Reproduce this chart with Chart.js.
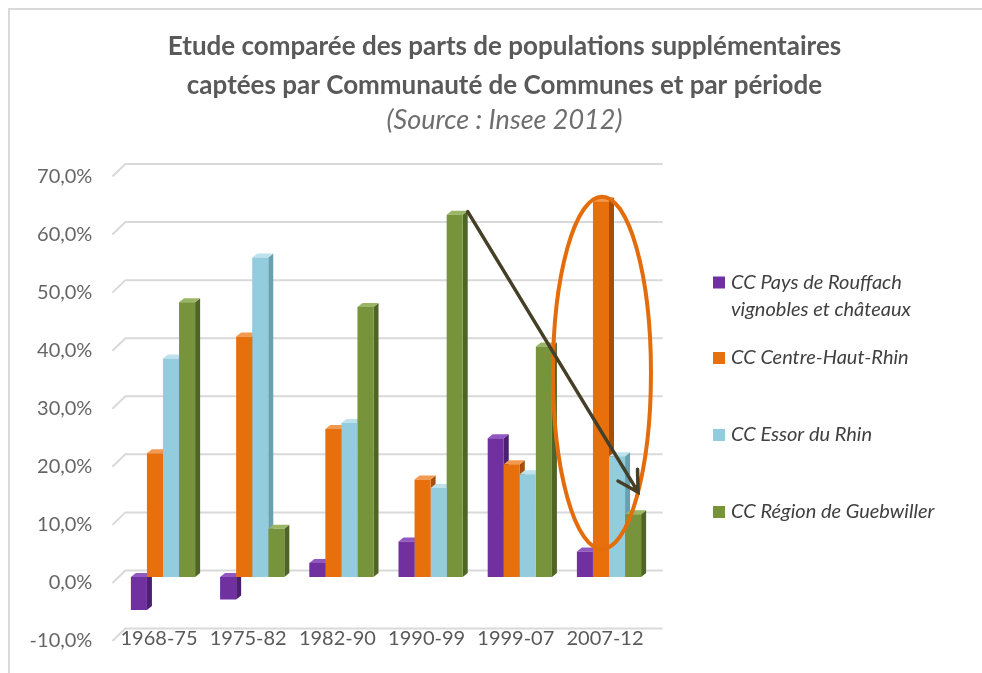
<!DOCTYPE html>
<html>
<head>
<meta charset="utf-8">
<script src="https://cdn.jsdelivr.net/npm/chart.js@4.4.1/dist/chart.umd.min.js"></script>
<style>
  body { margin: 0; background: #fff; }
  #wrap { position: relative; width: 982px; height: 673px; overflow: hidden; }
  #frame { position: absolute; left: 8px; top: 8px; width: 1000px; height: 700px;
           border-top: 2px solid #d9d9d9; border-left: 2px solid #d9d9d9; }
  canvas { position: absolute; left: 0; top: 0; }
</style>
</head>
<body>
<div id="wrap">
  <div id="frame"></div>
  <canvas id="chart" width="982" height="673"></canvas>
</div>
<script>
const categories = ["1968-75", "1975-82", "1982-90", "1990-99", "1999-07", "2007-12"];

const rouffach   = [-5.7, -3.9, 2.4, 6.1, 23.9, 4.4];
const centreHaut = [21.3, 41.4, 25.5, 16.8, 19.4, 64.7];
const essor      = [37.6, 55.0, 26.5, 15.3, 17.7, 20.8];
const guebwiller = [47.3, 8.3, 46.5, 62.4, 39.7, 10.8];

const seriesNames = [
  ["CC Pays de Rouffach", "vignobles et châteaux"],
  ["CC Centre-Haut-Rhin"],
  ["CC Essor du Rhin"],
  ["CC Région de Guebwiller"]
];

const yMin = -10, yMax = 70, yStep = 10;

const frontColors = ["#7030a0", "#e8700c", "#93cddd", "#77933c"];
const sideColors  = ["#4d1f72", "#a84f06", "#6a9fb0", "#4f6526"];
const topColors   = ["#9058c0", "#f39a50", "#bde2ec", "#9ab565"];

const legendY = [296, 358, 435, 512];
const legendLine = 27;

// back wall grid lines, with the little slanted bit at the left
const wall = {
  id: "wall",
  beforeDatasetsDraw(chart) {
    const { ctx, chartArea: a, scales: { y } } = chart;
    ctx.save();
    ctx.strokeStyle = "#d9d9d9";
    ctx.lineWidth = 2;
    y.ticks.forEach(t => {
      const p = y.getPixelForValue(t.value);
      ctx.beginPath();
      ctx.moveTo(a.left - 6, p + 6);
      ctx.lineTo(a.left + 7, p - 6.5);
      ctx.lineTo(a.right + 9, p - 6.5);
      ctx.stroke();
    });
    ctx.restore();
  }
};

// side and top faces so the columns look like the excel 3d ones
const bars3d = {
  id: "bars3d",
  beforeDatasetsDraw(chart) {
    const ctx = chart.ctx;
    const dx = 5, dy = 4;
    ctx.save();
    chart.data.datasets.forEach((ds, i) => {
      chart.getDatasetMeta(i).data.forEach(bar => {
        const l = bar.x - bar.width / 2, r = bar.x + bar.width / 2;
        const top = Math.min(bar.y, bar.base), bot = Math.max(bar.y, bar.base);
        ctx.fillStyle = sideColors[i];
        ctx.beginPath();
        ctx.moveTo(r, top); ctx.lineTo(r + dx, top - dy);
        ctx.lineTo(r + dx, bot - dy); ctx.lineTo(r, bot);
        ctx.fill();
        ctx.fillStyle = topColors[i];
        ctx.beginPath();
        ctx.moveTo(l, top); ctx.lineTo(l + dx, top - dy);
        ctx.lineTo(r + dx, top - dy); ctx.lineTo(r, top);
        ctx.fill();
      });
    });
    ctx.restore();
  }
};

// the hand drawn ellipse and arrow
const marks = {
  id: "marks",
  afterDatasetsDraw(chart) {
    const { ctx, scales: { y } } = chart;
    const last = categories.length - 1;
    const orange = chart.getDatasetMeta(1).data[last];
    const top = y.getPixelForValue(65.5), bottom = y.getPixelForValue(4.8);
    ctx.save();
    ctx.strokeStyle = "#e46c0a";
    ctx.lineWidth = 4;
    ctx.beginPath();
    ctx.ellipse(orange.x + 1, (top + bottom) / 2, 49, (bottom - top) / 2, 0, 0, Math.PI * 2);
    ctx.stroke();

    const from = chart.getDatasetMeta(3).data[3];
    const to = chart.getDatasetMeta(3).data[last];
    const x0 = from.x + from.width / 2 + 5, y0 = from.y - 3;
    const x1 = to.x + to.width / 2 - 3, y1 = y.getPixelForValue(14.6);
    const ang = Math.atan2(y1 - y0, x1 - x0);
    ctx.strokeStyle = "#463f27";
    ctx.lineWidth = 3.5;
    ctx.lineCap = "round";
    ctx.beginPath();
    ctx.moveTo(x0, y0); ctx.lineTo(x1, y1);
    ctx.moveTo(x1 + 23 * Math.cos(ang + Math.PI + 0.52), y1 + 23 * Math.sin(ang + Math.PI + 0.52));
    ctx.lineTo(x1, y1);
    ctx.lineTo(x1 + 23 * Math.cos(ang + Math.PI - 0.52), y1 + 23 * Math.sin(ang + Math.PI - 0.52));
    ctx.stroke();
    ctx.restore();
  }
};

const sideLegend = {
  id: "sideLegend",
  afterDraw(chart) {
    const ctx = chart.ctx;
    ctx.save();
    ctx.font = "italic 20px Lato";
    ctx.textBaseline = "middle";
    seriesNames.forEach((lines, i) => {
      const y0 = legendY[i] - (lines.length - 1) * legendLine / 2;
      ctx.fillStyle = frontColors[i];
      ctx.fillRect(713, y0 - 6, 12, 12);
      ctx.fillStyle = "#404040";
      lines.forEach((s, k) => ctx.fillText(s, 731, y0 + k * legendLine));
    });
    ctx.restore();
  }
};

const values = [rouffach, centreHaut, essor, guebwiller];

new Chart(document.getElementById("chart"), {
  type: "bar",
  data: {
    labels: categories,
    datasets: values.map((v, i) => ({
      label: seriesNames[i].join(" "),
      data: v,
      backgroundColor: frontColors[i],
      categoryPercentage: 0.72,
      barPercentage: 1.0
    }))
  },
  options: {
    responsive: false,
    animation: false,
    layout: { padding: { left: 27, right: 0, top: 0, bottom: 0 } },
    plugins: {
      legend: { display: false },
      tooltip: { enabled: false },
      title: {
        display: true,
        text: ["Etude comparée des parts de populations supplémentaires",
               "captées par Communauté de Communes et par période"],
        color: "#595959",
        font: { family: "Lato", size: 26, weight: "bold", lineHeight: 1.5 },
        padding: { top: 27.5, bottom: 0 }
      },
      subtitle: {
        display: true,
        text: "(Source : Insee 2012)",
        color: "#6e6e6e",
        font: { family: "Lato", size: 27, style: "italic", lineHeight: 1.1 },
        padding: { top: 0, bottom: 35.3 }
      }
    },
    scales: {
      x: {
        grid: { display: false, drawTicks: false },
        border: { display: false },
        ticks: {
          color: "#595959",
          font: { family: "Lato", size: 20 },
          mirror: true,
          padding: -16,
          labelOffset: -4,
          maxRotation: 0,
          autoSkip: false
        },
        afterFit(s) { s.height = 34.5; }
      },
      y: {
        min: yMin,
        max: yMax,
        grid: { display: false, drawTicks: false },
        border: { display: false },
        ticks: {
          stepSize: yStep,
          padding: 26,
          labelOffset: 6,
          color: "#666",
          font: { family: "Lato", size: 20 },
          callback: v => v.toFixed(1).replace(".", ",") + "%"
        },
        afterFit(s) { s.width = 91.4; }
      },
      y2: {
        position: "right",
        grid: { display: false },
        border: { display: false },
        ticks: { display: false },
        afterFit(s) { s.width = 328.4; }
      }
    }
  },
  plugins: [wall, bars3d, marks, sideLegend]
});
</script>
</body>
</html>
